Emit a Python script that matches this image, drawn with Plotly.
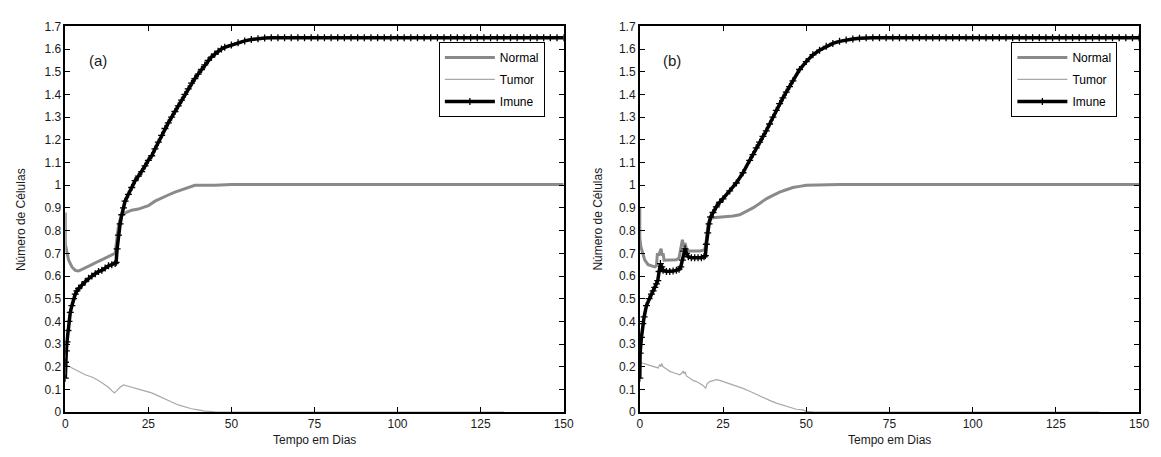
import plotly.graph_objects as go

# ---------------- Panel (a) ----------------
t_normal_a = [0, 0, 0.3, 1, 2, 3, 4, 6, 8, 10, 12, 14, 15, 15.5, 16, 16.5, 17, 17.5, 20, 22, 25, 27, 29, 31,
              33, 35, 37, 39, 45, 50, 150]
normal_a = [0.88, 0.74, 0.72, 0.67, 0.64, 0.625, 0.622, 0.635, 0.65, 0.665, 0.68, 0.695, 0.70, 0.76, 0.82, 0.85,
            0.868, 0.875, 0.89, 0.895, 0.91, 0.93, 0.945, 0.957, 0.97, 0.98, 0.99, 1.0, 1.0, 1.003, 1.003]

t_tumor_a = [0, 2, 4, 6, 8, 10, 12, 13, 14, 14.8, 15.5, 16.5, 17.5, 18.5, 20, 22, 24, 26, 28, 30, 32, 34, 36,
             38, 40, 42, 45, 50, 132]
tumor_a = [0.21, 0.195, 0.18, 0.165, 0.155, 0.14, 0.12, 0.11, 0.095, 0.085, 0.095, 0.11, 0.12, 0.117, 0.11,
           0.102, 0.094, 0.085, 0.072, 0.057, 0.045, 0.032, 0.022, 0.015, 0.01, 0.005, 0.002, 0.0, 0.0]

t_imune_a = [0, 0.05, 0.3, 0.5, 0.8, 1.1, 1.5, 2, 2.5, 3,
             3.5, 4, 5, 6, 7, 8, 9, 10, 11, 12,
             13, 14, 15, 15.3, 15.6, 16, 16.5, 17, 17.5, 18,
             19, 20, 21, 22, 23, 24, 25, 26, 27, 28,
             29, 30, 31, 32, 33, 34, 35, 36, 37, 38,
             39, 40, 41, 42, 43, 44, 45, 46, 47, 48,
             50, 52, 54, 56, 58, 60,
             62, 64, 66, 68, 70, 72, 74, 76, 78, 80, 82, 84, 86, 88, 90,
             92, 94, 96, 98, 100, 102, 104, 106, 108, 110, 112, 114, 116, 118, 120,
             122, 124, 126, 128, 130, 132, 134, 136, 138, 140, 142, 144, 146, 148, 150]
imune_a = [0.15, 0.22, 0.27, 0.31, 0.36, 0.40, 0.44, 0.47, 0.50, 0.52,
           0.535, 0.545, 0.56, 0.575, 0.59, 0.60, 0.61, 0.62, 0.625, 0.635,
           0.645, 0.65, 0.655, 0.66, 0.72, 0.78, 0.83, 0.87, 0.90, 0.93,
           0.96, 0.99, 1.02, 1.04, 1.06, 1.085, 1.11, 1.13, 1.16, 1.19,
           1.22, 1.25, 1.275, 1.30, 1.325, 1.35, 1.375, 1.40, 1.425, 1.45,
           1.47, 1.49, 1.51, 1.53, 1.55, 1.565, 1.578, 1.59, 1.60, 1.608,
           1.618, 1.628, 1.636, 1.642, 1.646, 1.649,
           1.65, 1.65, 1.65, 1.65, 1.65, 1.65, 1.65, 1.65, 1.65, 1.65, 1.65, 1.65, 1.65, 1.65, 1.65,
           1.65, 1.65, 1.65, 1.65, 1.65, 1.65, 1.65, 1.65, 1.65, 1.65, 1.65, 1.65, 1.65, 1.65, 1.65,
           1.65, 1.65, 1.65, 1.65, 1.65, 1.65, 1.65, 1.65, 1.65, 1.65, 1.65, 1.65, 1.65, 1.65, 1.65]

# ---------------- Panel (b) ----------------
t_normal_b = [0, 0, 0.3, 0.8, 1.5, 2.5, 3.5, 4.5, 5, 5.3, 5.7, 6, 6.4, 6.7, 7, 7.3, 8, 10, 11, 11.8, 12.2, 12.5,
              12.8, 13.2, 13.6, 14, 14.5, 16, 18, 19.5, 20, 20.5, 21, 22, 25, 28, 30, 32, 34, 36, 38, 40, 42, 44,
              46, 48, 50, 60, 150]
normal_b = [0.90, 0.77, 0.73, 0.70, 0.67, 0.65, 0.645, 0.64, 0.645, 0.70, 0.69, 0.70, 0.72, 0.69, 0.70, 0.67,
            0.67, 0.67, 0.672, 0.68, 0.72, 0.75, 0.76, 0.73, 0.745, 0.72, 0.71, 0.71, 0.71, 0.715, 0.76, 0.83,
            0.852, 0.857, 0.86, 0.865, 0.87, 0.885, 0.90, 0.92, 0.94, 0.955, 0.97, 0.98, 0.99, 0.995, 1.0, 1.003,
            1.003]

t_tumor_b = [0, 1, 2, 3, 4, 5, 5.5, 6, 6.3, 6.6, 7, 8, 9, 10, 11, 12, 12.5, 13, 13.3, 13.6, 14, 15, 16, 17, 18,
             19, 19.8, 20.2, 21, 22, 23, 24, 25, 27, 29, 31, 33, 35, 37, 39, 41, 43, 45, 47, 49, 50, 52, 55, 60,
             138]
tumor_b = [0.22, 0.215, 0.21, 0.205, 0.20, 0.197, 0.195, 0.21, 0.20, 0.215, 0.20, 0.19, 0.18, 0.175, 0.17,
           0.165, 0.17, 0.18, 0.17, 0.178, 0.16, 0.15, 0.14, 0.135, 0.125, 0.118, 0.105, 0.125, 0.135, 0.14,
           0.143, 0.14, 0.135, 0.127, 0.118, 0.105, 0.092, 0.078, 0.065, 0.052, 0.04, 0.03, 0.02, 0.013, 0.01,
           0.004, 0.002, 0.001, 0.0, 0.0]

t_imune_b = [0, 0.1, 0.5, 0.9, 1.3, 2, 2.8, 3.5, 4, 4.5,
             5, 5.4, 5.8, 6.2, 6.6, 7, 8, 9, 10, 11,
             11.8, 12.3, 12.8, 13.2, 13.6, 14, 14.6, 15.5, 16.5, 17.5,
             18.5, 19.3, 19.7, 20, 20.4, 20.8, 21.3, 22, 23, 24,
             25, 27, 29, 31, 33, 34, 35, 36, 37, 38,
             39, 40, 41, 42, 43, 44, 45, 46, 48, 50,
             52, 54, 56, 58, 60, 62, 64, 66,
             68, 70, 72, 74, 76, 78, 80, 82, 84, 86, 88, 90, 92, 94, 96,
             98, 100, 102, 104, 106, 108, 110, 112, 114, 116, 118, 120, 122, 124, 126,
             128, 130, 132, 134, 136, 138, 140, 142, 144, 146, 148, 150]
imune_b = [0.15, 0.26, 0.33, 0.39, 0.42, 0.47, 0.50, 0.52, 0.535, 0.55,
           0.565, 0.58, 0.62, 0.655, 0.64, 0.625, 0.62, 0.62, 0.622, 0.625,
           0.63, 0.64, 0.67, 0.71, 0.72, 0.70, 0.685, 0.68, 0.68, 0.68,
           0.68, 0.685, 0.69, 0.74, 0.79, 0.83, 0.86, 0.88, 0.905, 0.925,
           0.94, 0.975, 1.01, 1.055, 1.11, 1.135, 1.165, 1.19, 1.215, 1.24,
           1.27, 1.30, 1.33, 1.36, 1.385, 1.41, 1.435, 1.46, 1.51, 1.545,
           1.575, 1.595, 1.612, 1.625, 1.634, 1.64, 1.644, 1.648,
           1.65, 1.65, 1.65, 1.65, 1.65, 1.65, 1.65, 1.65, 1.65, 1.65, 1.65, 1.65, 1.65, 1.65, 1.65,
           1.65, 1.65, 1.65, 1.65, 1.65, 1.65, 1.65, 1.65, 1.65, 1.65, 1.65, 1.65, 1.65, 1.65, 1.65,
           1.65, 1.65, 1.65, 1.65, 1.65, 1.65, 1.65, 1.65, 1.65, 1.65, 1.65, 1.65]

y_ticks = [0, 0.1, 0.2, 0.3, 0.4, 0.5, 0.6, 0.7, 0.8, 0.9, 1.0, 1.1, 1.2, 1.3, 1.4, 1.5, 1.6, 1.7]
y_tick_text = ["0", "0.1", "0.2", "0.3", "0.4", "0.5", "0.6", "0.7", "0.8", "0.9", "1",
               "1.1", "1.2", "1.3", "1.4", "1.5", "1.6", "1.7"]
x_ticks = [0, 25, 50, 75, 100, 125, 150]
series_names = ["Normal", "Tumor", "Imune"]
panel_labels = ["(a)", "(b)"]

FONT = "Liberation Sans, Arial, sans-serif"
C_NORMAL = "#8a8a8a"
C_TUMOR = "#a8a8a8"
C_IMUNE = "#000000"
C_TEXT = "#1a1a1a"

W, H = 1161, 457
fig = go.Figure()

panels = [
    (t_normal_a, normal_a, t_tumor_a, tumor_a, t_imune_a, imune_a, "x", "y", "legend"),
    (t_normal_b, normal_b, t_tumor_b, tumor_b, t_imune_b, imune_b, "x2", "y2", "legend2"),
]
for k, (tn, n, tt, tu, ti, im, xa, ya, lg) in enumerate(panels):
    fig.add_trace(go.Scatter(x=tn, y=n, mode="lines", name=series_names[0], xaxis=xa, yaxis=ya, legend=lg,
                             legendgroup=f"n{k}", line=dict(color=C_NORMAL, width=3)))
    fig.add_trace(go.Scatter(x=tt, y=tu, mode="lines", name=series_names[1], xaxis=xa, yaxis=ya, legend=lg,
                             legendgroup=f"t{k}", line=dict(color=C_TUMOR, width=1.2)))
    fig.add_trace(go.Scatter(x=ti, y=im, mode="lines+markers", name=series_names[2], xaxis=xa, yaxis=ya,
                             legend=lg, legendgroup=f"i{k}",
                             line=dict(color=C_IMUNE, width=3.5),
                             marker=dict(symbol="cross-thin", size=5, color=C_IMUNE,
                                         line=dict(color=C_IMUNE, width=1.3))))

x0a, x1a = 63 / W, 567 / W
x0b, x1b = 644 / W, 1149 / W
y0, y1 = 1 - 418 / H, 1 - 20 / H

axis_common = dict(showline=True, linecolor="black", linewidth=1.5, mirror="allticks", ticks="inside",
                   ticklen=5, tickcolor="black", showgrid=False, zeroline=False,
                   tickfont=dict(family=FONT, size=12, color=C_TEXT))

fig.update_layout(
    width=W, height=H, margin=dict(l=0, r=0, t=0, b=0),
    paper_bgcolor="white", plot_bgcolor="white",
    font=dict(family=FONT, size=12, color="black"),
    xaxis=dict(domain=[x0a, x1a], range=[0, 150], tickvals=x_ticks, anchor="y", **axis_common),
    yaxis=dict(domain=[y0, y1], range=[0, 1.7], tickvals=y_ticks, ticktext=y_tick_text, anchor="x",
               **axis_common),
    xaxis2=dict(domain=[x0b, x1b], range=[0, 150], tickvals=x_ticks, anchor="y2", **axis_common),
    yaxis2=dict(domain=[y0, y1], range=[0, 1.7], tickvals=y_ticks, ticktext=y_tick_text, anchor="x2",
                **axis_common),
    legend=dict(x=548 / W, y=1 - 36 / H, xanchor="right", yanchor="top", bgcolor="white",
                bordercolor="black", borderwidth=1, font=dict(family=FONT, size=12), tracegroupgap=3,
                itemwidth=50),
    legend2=dict(x=1127 / W, y=1 - 36 / H, xanchor="right", yanchor="top", bgcolor="white",
                 bordercolor="black", borderwidth=1, font=dict(family=FONT, size=12), tracegroupgap=3,
                 itemwidth=50),
    showlegend=True,
)

for lab, xr, yr in [(panel_labels[0], "x", "y"), (panel_labels[1], "x2", "y2")]:
    fig.add_annotation(x=9.8, y=1.55, xref=xr, yref=yr, text=lab, showarrow=False,
                       font=dict(family=FONT, size=15, color=C_TEXT))

for xc in [(x0a + x1a) / 2, (x0b + x1b) / 2]:
    fig.add_annotation(x=xc, y=1 - 447 / H, xref="paper", yref="paper", text="Tempo em Dias",
                       xanchor="center", yanchor="middle",
                       showarrow=False, font=dict(family=FONT, size=12, color=C_TEXT))
for xc in [18 / W, 602 / W]:
    fig.add_annotation(x=xc, y=(y0 + y1) / 2, xref="paper", yref="paper", text="Número de Células",
                       xanchor="center", yanchor="middle",
                       textangle=-90, showarrow=False, font=dict(family=FONT, size=12, color=C_TEXT))

fig.write_html("out.html")
